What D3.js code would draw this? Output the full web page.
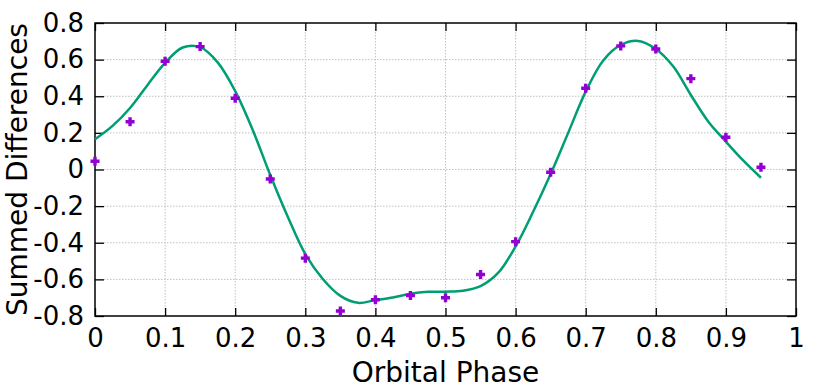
<!DOCTYPE html>
<html>
<head>
<meta charset="utf-8">
<script src="https://cdn.jsdelivr.net/npm/d3@7"></script>
<style>
  body { margin: 0; background: #fff; }
  text { font-family: "DejaVu Sans", sans-serif; fill: #000; }
</style>
</head>
<body>
<div id="chart"></div>
<script>
// measured phases and summed differences
const phases = [0, 0.05, 0.1, 0.15, 0.2, 0.25, 0.3, 0.35, 0.4, 0.45,
                0.5, 0.55, 0.6, 0.65, 0.7, 0.75, 0.8, 0.85, 0.9, 0.95];
const diffs = [0.045, 0.261, 0.591, 0.671, 0.389, -0.052, -0.484, -0.773, -0.711, -0.688,
               -0.70, -0.573, -0.394, -0.015, 0.444, 0.675, 0.658, 0.496, 0.176, 0.012];

// fitted curve
const fitPhase = [0, 0.025, 0.05, 0.075, 0.1, 0.125, 0.15, 0.175, 0.2, 0.225, 0.25,
                  0.275, 0.3, 0.325, 0.35, 0.375, 0.4, 0.425, 0.45, 0.475, 0.5, 0.525,
                  0.55, 0.575, 0.6, 0.625, 0.65, 0.675, 0.7, 0.725, 0.75, 0.775, 0.8,
                  0.825, 0.85, 0.875, 0.9, 0.925, 0.95];
const fitValue = [0.165, 0.238, 0.336, 0.462, 0.582, 0.666, 0.668, 0.585, 0.428, 0.216, -0.03,
                  -0.258, -0.462, -0.598, -0.69, -0.728, -0.713, -0.699, -0.678, -0.668, -0.667, -0.662,
                  -0.637, -0.565, -0.42, -0.231, -0.025, 0.2, 0.425, 0.595, 0.68, 0.702, 0.658,
                  0.562, 0.407, 0.261, 0.152, 0.048, -0.045];

const xTicks = [0, 0.1, 0.2, 0.3, 0.4, 0.5, 0.6, 0.7, 0.8, 0.9, 1];
const yTicks = [-0.8, -0.6, -0.4, -0.2, 0, 0.2, 0.4, 0.6, 0.8];

const width = 830, height = 388;
const margin = {top: 23, right: 34, bottom: 72, left: 95};
const innerW = width - margin.left - margin.right;
const innerH = height - margin.top - margin.bottom;

const svg = d3.select("#chart").append("svg")
    .attr("width", width)
    .attr("height", height);

const g = svg.append("g")
    .attr("transform", `translate(${margin.left},${margin.top})`);

const x = d3.scaleLinear().domain([0, 1]).range([0, innerW]);
const y = d3.scaleLinear().domain([-0.8, 0.8]).range([innerH, 0]);

// dotted grid
g.append("g")
    .selectAll("line")
    .data(xTicks.slice(1, -1))
    .join("line")
    .attr("x1", d => x(d)).attr("x2", d => x(d))
    .attr("y1", 0).attr("y2", innerH)
    .attr("stroke", "#c0c0c0")
    .attr("stroke-width", 1)
    .attr("stroke-dasharray", "1.5,1.5");

g.append("g")
    .selectAll("line")
    .data(yTicks.slice(1, -1))
    .join("line")
    .attr("x1", 0).attr("x2", innerW)
    .attr("y1", d => y(d)).attr("y2", d => y(d))
    .attr("stroke", "#c0c0c0")
    .attr("stroke-width", 1)
    .attr("stroke-dasharray", "1.5,1.5");

// axes with inward ticks, mirrored on top and right
// plain hyphen for minus, like the original
const fmt = d => d === 0 ? "0" : (d === 1 ? "1" : d.toFixed(1));

const xAxis = g.append("g")
    .attr("transform", `translate(0,${innerH})`)
    .call(d3.axisBottom(x).tickValues(xTicks).tickFormat(fmt).tickSizeInner(-8).tickSizeOuter(0).tickPadding(14));
const xTop = g.append("g")
    .call(d3.axisTop(x).tickValues(xTicks).tickFormat("").tickSizeInner(-8).tickSizeOuter(0));
const yAxis = g.append("g")
    .call(d3.axisLeft(y).tickValues(yTicks).tickFormat(fmt).tickSizeInner(-9).tickSizeOuter(0).tickPadding(11));
const yRight = g.append("g")
    .attr("transform", `translate(${innerW},0)`)
    .call(d3.axisRight(y).tickValues(yTicks).tickFormat("").tickSizeInner(-9).tickSizeOuter(0));

[xAxis, xTop, yAxis, yRight].forEach(a => {
    a.select(".domain").remove();
    a.selectAll(".tick line").attr("stroke", "#000").attr("stroke-width", 1.3);
    a.selectAll("text").attr("font-size", 26).attr("font-family", "DejaVu Sans").attr("fill", "#000");
});
xAxis.selectAll("text").attr("dy", "0.71em").attr("y", 13);

// frame
g.append("rect")
    .attr("x", 0).attr("y", 0)
    .attr("width", innerW).attr("height", innerH)
    .attr("fill", "none")
    .attr("stroke", "#000")
    .attr("stroke-width", 1.5);

// fitted curve
const fit = fitPhase.map((p, i) => [p, fitValue[i]]);
g.append("path")
    .datum(fit)
    .attr("fill", "none")
    .attr("stroke", "#009e73")
    .attr("stroke-width", 2.5)
    .attr("d", d3.line().x(d => x(d[0])).y(d => y(d[1])).curve(d3.curveCatmullRom.alpha(0.5)));

// data points as thick crosses
const pts = phases.map((p, i) => [p, diffs[i]]);
g.append("g")
    .selectAll("path")
    .data(pts)
    .join("path")
    .attr("d", d => {
        const cx = x(d[0]), cy = y(d[1]), s = 4.5;
        return `M${cx - s},${cy}H${cx + s}M${cx},${cy - s}V${cy + s}`;
    })
    .attr("stroke", "#9400d3")
    .attr("stroke-width", 3.4)
    .attr("fill", "none");

// axis titles
svg.append("text")
    .attr("x", margin.left + innerW / 2)
    .attr("y", 382)
    .attr("text-anchor", "middle")
    .attr("font-size", 28)
    .text("Orbital Phase");

svg.append("text")
    .attr("transform", `translate(27,${margin.top + innerH / 2}) rotate(-90)`)
    .attr("text-anchor", "middle")
    .attr("font-size", 28)
    .text("Summed Differences");
</script>
</body>
</html>
